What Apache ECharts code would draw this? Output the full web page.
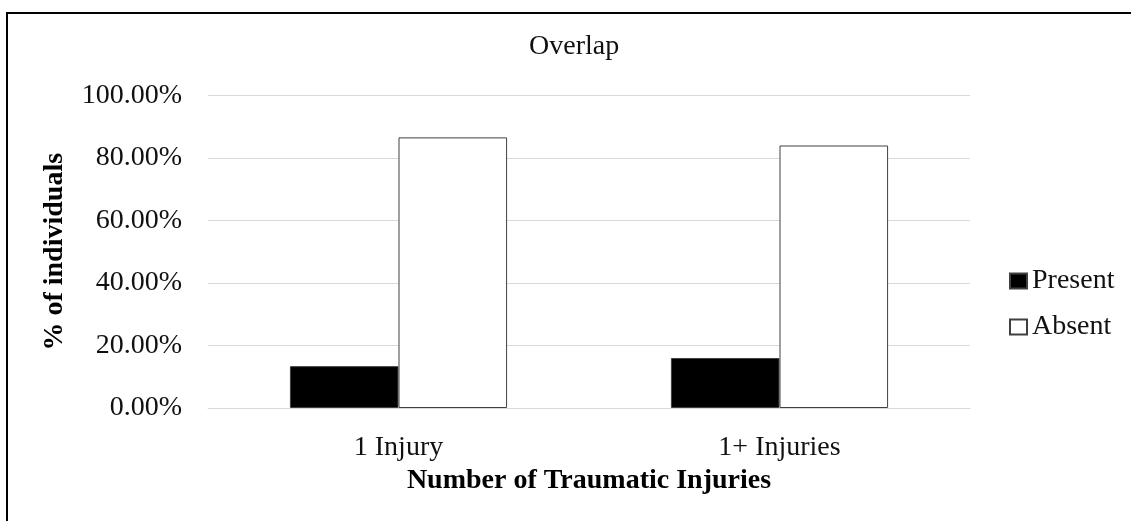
<!DOCTYPE html>
<html>
<head>
<meta charset="utf-8">
<script src="https://cdn.jsdelivr.net/npm/echarts@6/dist/echarts.min.js"></script>
<style>
  html, body { margin: 0; padding: 0; background: #fff; overflow: hidden; }
  #frame {
    position: absolute; left: 6px; top: 12px; width: 1200px; height: 600px;
    border-top: 2px solid #000; border-left: 2px solid #000;
  }
  #chart { position: absolute; left: 0; top: 0; width: 1131px; height: 521px; }
</style>
</head>
<body>
<div id="frame"></div>
<div id="chart"></div>
<script>
const categories = ['1 Injury', '1+ Injuries']
const presentValues = [13.4, 16.0]
const absentValues = [86.6, 84.0]
const yTicks = [0, 20, 40, 60, 80, 100]

const font = '"Liberation Serif", "Times New Roman", serif'
const chart = echarts.init(document.getElementById('chart'))

chart.setOption({
  animation: false,
  title: {
    text: 'Overlap',
    left: 529,
    top: 33,
    padding: 0,
    textStyle: { fontFamily: font, fontSize: 28, fontWeight: 'normal', color: '#111' },
  },
  legend: {
    orient: 'vertical',
    left: 1004,
    top: 262,
    itemWidth: 17,
    itemHeight: 15,
    itemGap: 18,
    icon: 'rect',
    textStyle: { fontFamily: font, fontSize: 28, color: '#111' },
    data: ['Present', 'Absent'],
  },
  grid: { left: 208, right: 161, top: 95.5, bottom: 113 },
  xAxis: {
    type: 'category',
    data: categories,
    name: 'Number of Traumatic Injuries',
    nameLocation: 'middle',
    nameGap: 55,
    nameTextStyle: { fontFamily: font, fontSize: 28, fontWeight: 'bold', color: '#000' },
    axisLine: { show: true, lineStyle: { color: '#d9d9d9', width: 1 } },
    axisTick: { show: false },
    axisLabel: { margin: 26, fontFamily: font, fontSize: 28, color: '#111' },
  },
  yAxis: {
    type: 'value',
    min: yTicks[0],
    max: yTicks[yTicks.length - 1],
    interval: 20,
    name: '% of individuals',
    nameLocation: 'middle',
    nameGap: 139,
    nameTextStyle: { fontFamily: font, fontSize: 28, fontWeight: 'bold', color: '#000' },
    axisLine: { show: false },
    axisTick: { show: false },
    axisLabel: {
      margin: 26,
      fontFamily: font,
      fontSize: 28,
      color: '#111',
      formatter: (v) => v.toFixed(2) + '%',
    },
    splitLine: { lineStyle: { color: '#d9d9d9', width: 1 } },
  },
  series: [
    {
      name: 'Present',
      type: 'bar',
      data: presentValues,
      barGap: '0%',
      barCategoryGap: '43%',
      itemStyle: { color: '#000', borderColor: '#404040', borderWidth: 1 },
    },
    {
      name: 'Absent',
      type: 'bar',
      data: absentValues,
      barGap: '0%',
      barCategoryGap: '43%',
      itemStyle: { color: '#fff', borderColor: '#404040', borderWidth: 1 },
    },
  ],
})
</script>
</body>
</html>
